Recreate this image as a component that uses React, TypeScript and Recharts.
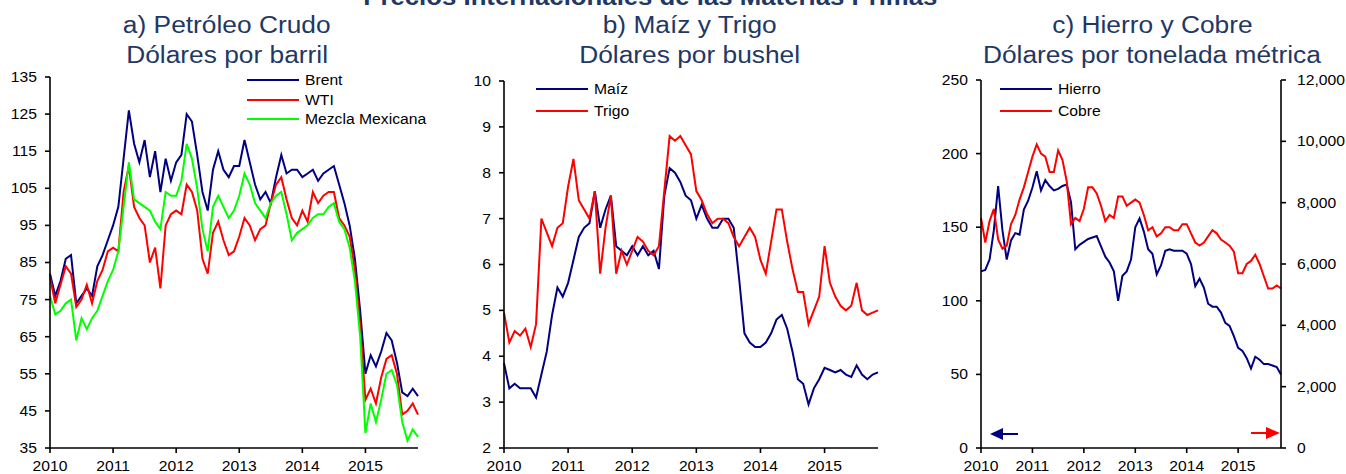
import React from "react";
import { LineChart, Line, XAxis, YAxis } from "recharts";

const YEARS = ["2010", "2011", "2012", "2013", "2014", "2015"];
const MONTH_CODES = ["01", "02", "03", "04", "05", "06", "07", "08", "09", "10", "11", "12"];
// monthly observations, Jan 2010 .. Nov 2015
const MONTHS = YEARS.flatMap((y) => MONTH_CODES.map((m) => `${y}-${m}`)).slice(0, 71);

// a) Petróleo crudo, dólares por barril
const BRENT = [
  82, 76, 80, 86, 87, 74, 76, 78, 76, 84, 87, 91,
  95, 100, 113, 126, 117, 112, 118, 108, 115, 104, 113, 107,
  112, 114, 125, 123, 114, 104, 99, 110, 115, 110, 108, 111,
  111, 118, 112, 106, 102, 104, 101, 108, 114, 109, 110, 110,
  108, 109, 110, 107, 109, 110, 111, 106, 101, 95, 86, 72,
  55, 60, 57, 61, 66, 64, 58, 50, 49, 51, 49,
];
const WTI = [
  81, 74, 79, 84, 82, 73, 75, 79, 74, 80, 83, 88,
  89, 88, 104, 111, 100, 97, 95, 85, 89, 78, 95, 98,
  99, 98, 106, 104, 99, 86, 82, 93, 96, 91, 87, 88,
  92, 97, 95, 91, 94, 95, 101, 106, 108, 102, 97, 95,
  99, 96, 104, 101, 103, 104, 104, 97, 95, 92, 83, 68,
  48, 51, 47, 54, 59, 60, 55, 44, 45, 47, 44,
];
const MEZCLA = [
  76, 71, 72, 74, 75, 64, 70, 67, 70, 72, 76, 80,
  83, 88, 100, 112, 102, 101, 100, 99, 96, 94, 104, 103,
  103, 107, 117, 113, 105, 94, 88, 100, 103, 100, 97, 99,
  103, 109, 106, 101, 99, 97, 101, 103, 104, 98, 91, 93,
  94, 95, 97, 98, 98, 100, 101, 96, 94, 89, 80, 65,
  39, 47, 42, 48, 55, 56, 52, 42, 37, 40, 38,
];

// b) Maíz y trigo, dólares por bushel
const MAIZ = [
  3.85, 3.3, 3.4, 3.3, 3.3, 3.3, 3.1, 3.6, 4.1, 4.9, 5.5, 5.3,
  5.6, 6.1, 6.6, 6.8, 6.9, 7.6, 6.8, 7.2, 7.5, 6.4, 6.3, 6.2,
  6.4, 6.2, 6.4, 6.2, 6.3, 5.9, 7.5, 8.1, 8.0, 7.8, 7.5, 7.4,
  7.0, 7.3, 7.0, 6.8, 6.8, 7.0, 7.0, 6.8, 5.7, 4.5, 4.3, 4.2,
  4.2, 4.3, 4.5, 4.8, 4.9, 4.6, 4.1, 3.5, 3.4, 2.95, 3.3, 3.5,
  3.75, 3.7, 3.65, 3.7, 3.6, 3.55, 3.8, 3.6, 3.5, 3.6, 3.65,
];
const TRIGO = [
  4.95, 4.3, 4.55, 4.45, 4.6, 4.2, 4.7, 7.0, 6.7, 6.4, 6.8, 6.9,
  7.7, 8.3, 7.4, 7.2, 7.0, 7.6, 5.8, 6.8, 7.5, 5.8, 6.3, 6.0,
  6.3, 6.6, 6.5, 6.3, 6.2, 6.4, 7.6, 8.8, 8.7, 8.8, 8.6, 8.4,
  7.6, 7.4, 7.1, 6.9, 7.0, 7.0, 6.9, 6.6, 6.4, 6.6, 6.8, 6.6,
  6.1, 5.8, 6.5, 7.2, 7.2, 6.5, 5.9, 5.4, 5.4, 4.7, 5.0, 5.3,
  6.4, 5.6, 5.3, 5.1, 5.0, 5.1, 5.6, 5.0, 4.9, 4.95, 5.0,
];

// c) Hierro (eje izq.) y cobre (eje der.), dólares por tonelada métrica
const HIERRO = [
  120, 121, 128, 148, 178, 148, 128, 141, 146, 145, 162, 168,
  177, 188, 175, 182, 178, 175, 176, 178, 179, 167, 135, 138,
  140, 142, 143, 144, 137, 130, 126, 120, 100, 117, 120, 128,
  150, 156, 147, 135, 132, 118, 124, 134, 135, 134, 134, 134,
  132, 125, 110, 115, 109, 98, 96, 96, 92, 85, 83, 76,
  68, 66, 61, 54, 62, 60, 57, 57, 56, 55, 50,
];
const COBRE = [
  7500, 6700, 7400, 7800, 6800, 6500, 6600, 7300, 7600, 8100, 8500, 9000,
  9500, 9900, 9600, 9500, 9000, 9000, 9700, 9400, 8700, 7300, 7500, 7400,
  7800, 8500, 8500, 8300, 7900, 7400, 7600, 7500, 8200, 8200, 7900, 8000,
  8100, 8000, 7600, 7100, 7200, 6900, 7000, 7200, 7200, 7100, 7100, 7300,
  7300, 7000, 6700, 6600, 6700, 6900, 7100, 7000, 6800, 6700, 6600, 6400,
  5700, 5700, 6000, 6100, 6300, 6000, 5600, 5200, 5200, 5300, 5200,
];

const TICKS_A = [35, 45, 55, 65, 75, 85, 95, 105, 115, 125, 135];
const TICKS_B = [2, 3, 4, 5, 6, 7, 8, 9, 10];
const TICKS_C_LEFT = [0, 50, 100, 150, 200, 250];
const TICKS_C_RIGHT = [0, 2000, 4000, 6000, 8000, 10000, 12000];

const NAVY = "#000080";
const RED = "#ff0000";
const GREEN = "#00ff00";
const TITLE_COLOR = "#1f3864";
const FONT = '"Liberation Sans", Arial, sans-serif';
const STRETCH = 1.12;

const dataA = MONTHS.map((m, i) => ({ m, brent: BRENT[i], wti: WTI[i], mezcla: MEZCLA[i] }));
const dataB = MONTHS.map((m, i) => ({ m, maiz: MAIZ[i], trigo: TRIGO[i] }));
const dataC = MONTHS.map((m, i) => ({ m, hierro: HIERRO[i], cobre: COBRE[i] }));

const fmtThousands = (v: number) => v.toLocaleString("en-US");

function Tick(props: any) {
  const { x, y, payload, anchor, dy, fmt } = props;
  const label = fmt ? fmt(payload.value) : String(payload.value);
  return (
    <g transform={`translate(${x},${y})`}>
      <text
        x={0}
        y={0}
        dy={dy}
        textAnchor={anchor}
        fill="#000"
        fontSize={14}
        fontFamily={FONT}
        transform={`scale(${STRETCH},1)`}
      >
        {label}
      </text>
    </g>
  );
}

const axisStyle = { stroke: "#000", strokeWidth: 1.6 };

function xAxis() {
  return (
    <XAxis
      dataKey="m"
      interval={11}
      height={26}
      tickSize={5}
      tickMargin={8}
      axisLine={axisStyle}
      tickLine={axisStyle}
      tick={(p: any) => <Tick {...p} anchor="middle" dy="0.71em" fmt={(v: string) => v.slice(0, 4)} />}
    />
  );
}

function Legend({ items, left, top, gap }: { items: { name: string; color: string }[]; left: number; top: number; gap: number }) {
  return (
    <div style={{ position: "absolute", left, top }}>
      {items.map((it, i) => (
        <div key={it.name} style={{ position: "absolute", left: 0, top: i * gap, height: 16, width: 200 }}>
          <div style={{ position: "absolute", left: 0, top: 7, width: 52, height: 2, background: it.color }} />
          <span
            style={{
              position: "absolute",
              left: 58,
              top: 0,
              fontSize: 14,
              lineHeight: "16px",
              color: "#000",
              whiteSpace: "nowrap",
              transform: `scaleX(${STRETCH})`,
              transformOrigin: "left center",
            }}
          >
            {it.name}
          </span>
        </div>
      ))}
    </div>
  );
}

function Title({ lines, center }: { lines: string[]; center: number }) {
  return (
    <div style={{ position: "absolute", left: center - 250, top: 10, width: 500, textAlign: "center" }}>
      {lines.map((l) => (
        <div key={l} style={{ fontSize: 23.5, lineHeight: "30px", color: TITLE_COLOR, whiteSpace: "nowrap" }}>
          <span style={{ display: "inline-block", transform: `scaleX(${STRETCH})` }}>{l}</span>
        </div>
      ))}
    </div>
  );
}

export default function App() {
  return (
    <div
      style={{
        position: "absolute",
        left: 0,
        top: 0,
        width: 1346,
        height: 474,
        overflow: "hidden",
        background: "#fff",
        fontFamily: FONT,
      }}
    >
      <div
        style={{
          position: "absolute",
          left: 650 - 400,
          top: -14,
          width: 800,
          textAlign: "center",
          fontSize: 23,
          lineHeight: "23px",
          fontWeight: "bold",
          color: TITLE_COLOR,
        }}
      >
        <span style={{ display: "inline-block", transform: `scaleX(${STRETCH})` }}>
          Precios Internacionales de las Materias Primas
        </span>
      </div>

      <Title lines={["a) Petróleo Crudo", "Dólares por barril"]} center={227} />
      <Title lines={["b) Maíz y Trigo", "Dólares por bushel"]} center={690} />
      <Title lines={["c) Hierro y Cobre", "Dólares por tonelada métrica"]} center={1152} />

      <div style={{ position: "absolute", left: 0, top: 0 }}>
        <LineChart width={440} height={474} data={dataA} margin={{ top: 77, right: 22, bottom: 0, left: 0 }}>
          {xAxis()}
          <YAxis
            width={50}
            domain={[35, 135]}
            ticks={TICKS_A}
            tickSize={5}
            tickMargin={8}
            axisLine={axisStyle}
            tickLine={axisStyle}
            tick={(p: any) => <Tick {...p} anchor="end" dy="0.355em" />}
          />
          <Line dataKey="brent" stroke={NAVY} strokeWidth={2} dot={false} isAnimationActive={false} />
          <Line dataKey="wti" stroke={RED} strokeWidth={2} dot={false} isAnimationActive={false} />
          <Line dataKey="mezcla" stroke={GREEN} strokeWidth={2} dot={false} isAnimationActive={false} />
        </LineChart>
      </div>

      <div style={{ position: "absolute", left: 450, top: 0 }}>
        <LineChart width={440} height={474} data={dataB} margin={{ top: 81, right: 12, bottom: 0, left: 0 }}>
          {xAxis()}
          <YAxis
            width={54}
            domain={[2, 10]}
            ticks={TICKS_B}
            tickSize={5}
            tickMargin={8}
            axisLine={axisStyle}
            tickLine={axisStyle}
            tick={(p: any) => <Tick {...p} anchor="end" dy="0.355em" />}
          />
          <Line dataKey="maiz" stroke={NAVY} strokeWidth={2} dot={false} isAnimationActive={false} />
          <Line dataKey="trigo" stroke={RED} strokeWidth={2} dot={false} isAnimationActive={false} />
        </LineChart>
      </div>

      <div style={{ position: "absolute", left: 920, top: 0 }}>
        <LineChart width={426} height={474} data={dataC} margin={{ top: 80, right: 0, bottom: 0, left: 0 }}>
          {xAxis()}
          <YAxis
            yAxisId="left"
            width={61}
            domain={[0, 250]}
            ticks={TICKS_C_LEFT}
            tickSize={5}
            tickMargin={8}
            axisLine={axisStyle}
            tickLine={axisStyle}
            tick={(p: any) => <Tick {...p} anchor="end" dy="0.355em" />}
          />
          <YAxis
            yAxisId="right"
            orientation="right"
            width={65}
            domain={[0, 12000]}
            ticks={TICKS_C_RIGHT}
            tickSize={5}
            tickMargin={11}
            axisLine={axisStyle}
            tickLine={axisStyle}
            tick={(p: any) => <Tick {...p} anchor="start" dy="0.355em" fmt={fmtThousands} />}
          />
          <Line yAxisId="left" dataKey="hierro" stroke={NAVY} strokeWidth={2} dot={false} isAnimationActive={false} />
          <Line yAxisId="right" dataKey="cobre" stroke={RED} strokeWidth={2} dot={false} isAnimationActive={false} />
        </LineChart>
      </div>

      <Legend
        items={[
          { name: "Brent", color: NAVY },
          { name: "WTI", color: RED },
          { name: "Mezcla Mexicana", color: GREEN },
        ]}
        left={247}
        top={72}
        gap={19.5}
      />
      <Legend
        items={[
          { name: "Maíz", color: NAVY },
          { name: "Trigo", color: RED },
        ]}
        left={536}
        top={81}
        gap={22}
      />
      <Legend
        items={[
          { name: "Hierro", color: NAVY },
          { name: "Cobre", color: RED },
        ]}
        left={1000}
        top={81}
        gap={22}
      />

      <svg style={{ position: "absolute", left: 0, top: 0 }} width={1346} height={474} pointerEvents="none">
        <line x1={1000} y1={434} x2={1018} y2={434} stroke={NAVY} strokeWidth={2} />
        <polygon points="990,434 1003,428 1003,440" fill={NAVY} />
        <line x1={1251} y1={433} x2={1267} y2={433} stroke={RED} strokeWidth={2} />
        <polygon points="1280,433 1266,427 1266,439" fill={RED} />
      </svg>
    </div>
  );
}
